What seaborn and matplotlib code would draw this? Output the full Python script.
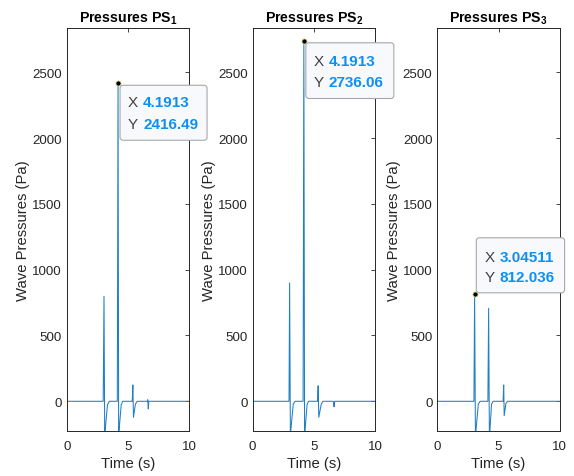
import numpy as np
import pandas as pd
import matplotlib
matplotlib.use("Agg")
import matplotlib.pyplot as plt
import seaborn as sns
from matplotlib.patches import FancyBboxPatch
from matplotlib.transforms import ScaledTranslation

# ---------------- data ----------------
titles = [r"Pressures PS$_{\mathbf{1}}$", r"Pressures PS$_{\mathbf{2}}$", r"Pressures PS$_{\mathbf{3}}$"]

t_ps1 = [0, 2.98, 3.045, 3.10, 3.13, 3.33, 3.37, 3.48, 4.13, 4.1913, 4.24, 4.27, 4.45, 4.49, 4.56,
         5.35, 5.40, 5.45, 5.61, 5.65, 5.75, 6.58, 6.62, 6.66, 6.70, 10]
p_ps1 = [0, 0, 798, -228, -228, -25, -20, 0, 0, 2416.49, -228, -228, -25, -20, 0,
         0, 124, -122, -20, -16, 0, 0, 12, -58, 0, 0]

t_ps2 = [0, 2.98, 3.03, 3.09, 3.12, 3.33, 3.37, 3.48, 4.13, 4.1913, 4.25, 4.28, 4.46, 4.50, 4.57,
         5.31, 5.36, 5.41, 5.62, 5.66, 5.75, 6.58, 6.62, 6.66, 6.70, 10]
p_ps2 = [0, 0, 899, -228, -228, -20, -15, 0, 0, 2736.06, -228, -228, -22, -16, 0,
         0, 118, -122, -18, -14, 0, 0, -8, -42, 0, 0]

t_ps3 = [0, 2.99, 3.04511, 3.11, 3.15, 3.35, 3.39, 3.50, 4.13, 4.19, 4.25, 4.29, 4.43, 4.47, 4.56,
         5.37, 5.42, 5.46, 5.60, 5.64, 5.73, 10]
p_ps3 = [0, 0, 812.036, -228, -228, -20, -15, 0, 0, 707, -228, -228, -20, -15, 0,
         0, 124, -109, -15, -12, 0, 0]

tip_x = [4.1913, 4.1913, 3.04511]
tip_y = [2416.49, 2736.06, 812.036]

x_ticks = [0, 5, 10]
y_ticks = [0, 500, 1000, 1500, 2000, 2500]

# ---------------- style ----------------
sns.set_style("white")
plt.rcParams["font.family"] = ["Liberation Sans", "DejaVu Sans"]
plt.rcParams["mathtext.fontset"] = "custom"
plt.rcParams["mathtext.rm"] = "Liberation Sans"
plt.rcParams["mathtext.bf"] = "Liberation Sans:bold"

LINE = "#1F80C4"
AX = "#262626"
W, H = 574, 477
fig = plt.figure(figsize=(W / 100, H / 100), dpi=100)

lefts = [66.7, 252.5, 437.3]
ax_w = 122.5
ax_top, ax_bot = 29.3, 432.3

# datatip layout (pixel offsets from the tip point)
tip_boxes = [(2, -57, 87, 55), (2, -57.3, 88, 55.7), (1.7, 1.6, 88.3, 55)]
tip_rows = [(-19, -40.5), (-19.5, -40.6), (37.6, 17.6)]

series = [(t_ps1, p_ps1), (t_ps2, p_ps2), (t_ps3, p_ps3)]

for i, (tt, pp) in enumerate(series):
    ax = fig.add_axes([lefts[i] / W, (H - ax_bot) / H, ax_w / W, (ax_bot - ax_top) / H])
    df = pd.DataFrame({"t": tt, "p": pp})
    sns.lineplot(data=df, x="t", y="p", ax=ax, estimator=None, sort=False,
                 color=LINE, linewidth=0.75)
    ax.set_xlim(0, 10)
    ax.set_ylim(-228, 2834)
    ax.set_xticks(x_ticks)
    ax.set_yticks(y_ticks)
    ax.tick_params(direction="in", length=2.6, width=0.6, top=True, right=True,
                   labelsize=9.6, colors=AX, pad=3.5)
    ax.tick_params(axis="x", pad=6.5)
    for s in ax.spines.values():
        s.set_color(AX)
        s.set_linewidth(0.7)
    ax.set_xlabel("Time (s)", fontsize=10.7, color=AX, labelpad=2.5)
    ax.set_ylabel("Wave Pressures (Pa)", fontsize=10.7, color=AX, labelpad=1.5)
    ax.set_title(titles[i], fontsize=10.2, fontweight="bold", color="black", pad=5)

    # datatip
    tx, ty = tip_x[i], tip_y[i]
    base = ScaledTranslation(tx, ty, ax.transData)
    bx, by, bw, bh = tip_boxes[i]
    box = FancyBboxPatch((bx, by), bw, bh, boxstyle="round,pad=0,rounding_size=3",
                         transform=base, facecolor="#F8F9FC", edgecolor="#A8A8A8",
                         linewidth=0.8, clip_on=False, zorder=5)
    ax.add_artist(box)
    r1, r2 = tip_rows[i]
    for lab, val, dy in (("X", tx, r1), ("Y", ty, r2)):
        ax.text(10, dy, lab, transform=base, ha="left", va="center", fontsize=11,
                color="#404040", zorder=6, clip_on=False)
        ax.text(25, dy, f"{val:g}", transform=base, ha="left", va="center", fontsize=11,
                fontweight="bold", color="#0E90F0", zorder=6, clip_on=False)
    sns.scatterplot(x=[tx], y=[ty], ax=ax, color="black", s=14, edgecolor="#E6DC9A",
                    linewidth=0.6, zorder=7, legend=False)

fig.savefig("out.png", dpi=100)
